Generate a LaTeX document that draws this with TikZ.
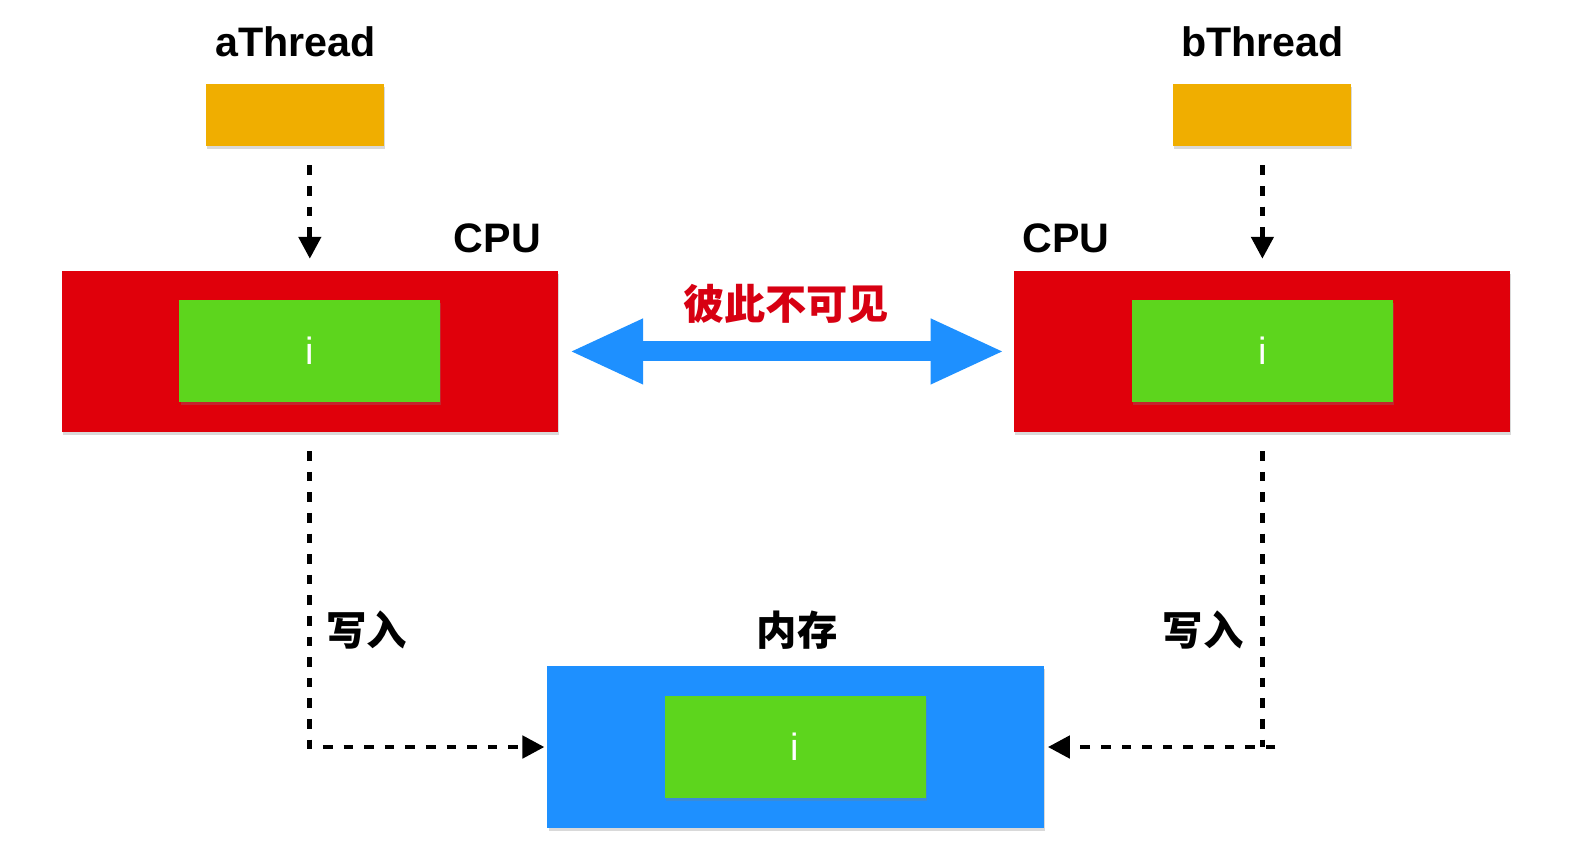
\documentclass[tikz,border=0pt]{standalone}
\usepackage{fontspec}
\setmainfont{Liberation Sans}
\newfontfamily\cjk{Noto Sans CJK SC}
\usetikzlibrary{arrows.meta,shadows}
\definecolor{thorange}{HTML}{F0AE00}
\definecolor{cpured}{HTML}{E0000B}
\definecolor{reggreen}{HTML}{5DD51D}
\definecolor{memblue}{HTML}{1E90FF}
\definecolor{txtred}{HTML}{D70012}
\begin{document}
\begin{tikzpicture}[x=0.50135pt,y=-0.50135pt,
  boxbase/.style={draw=none,inner sep=0pt,outer sep=0pt,
    drop shadow={opacity=0.3,shadow xshift=0.6pt,shadow yshift=-1.4pt}},
  threadbox/.style={boxbase,fill=thorange,minimum width=89.2pt,minimum height=31.1pt},
  cpubox/.style={boxbase,fill=cpured,minimum width=248.2pt,minimum height=80.7pt},
  membox/.style={boxbase,fill=memblue,minimum width=248.2pt,minimum height=81.2pt},
  regbox/.style={boxbase,fill=reggreen,minimum width=130.4pt,minimum height=51.1pt,
    text=white,font=\fontsize{19pt}{19pt}\selectfont},
  lbl/.style={inner sep=0pt,font=\fontsize{20.6pt}{20.6pt}\selectfont\bfseries},
  cjklbl/.style={inner sep=0pt,font=\fontsize{20.2pt}{20.2pt}\selectfont\cjk\bfseries},
  dashline/.style={line width=2.4pt,dash pattern=on 4.8pt off 5.5pt},
  dasharrow/.style={dashline,-{Triangle[length=11pt 0,width=11pt 0]}},
  bluearrow/.style={line width=10pt,draw=memblue,
    {Triangle[length=37pt 0,width=30pt 0]}-{Triangle[length=37pt 0,width=30pt 0]}}
]
\useasboundingbox (0pt,0pt) rectangle (786pt,-432pt);

% threads
\node[lbl] (tal) at (295,42) {aThread};
\node[threadbox] (ta) at (294,115) {};
\node[lbl] (tbl) at (1259,42) {bThread};
\node[threadbox] (tb) at (1258.5,115) {};

% CPUs
\node[cpubox] (lcpu) at (309,350.5) {};
\node[regbox] (lg) at (309,350) {i};
\node[lbl] (lcpul) at (496,238) {CPU};
\node[cpubox] (rcpu) at (1258.5,350.5) {};
\node[regbox] (rg) at (1259,350) {i};
\node[lbl] (rcpul) at (1063,238) {CPU};

% memory
\node[cjklbl] (meml) at (795,628) {内存};
\node[membox] (mem) at (793.5,745) {};
\node[regbox] (mg) at (793,745) {i};

% labels
\node[cjklbl,text=txtred,font=\fontsize{20.6pt}{20.6pt}\selectfont\cjk\bfseries] (vis) at (784,303) {彼此不可见};
\node[cjklbl] (wl) at (366,628) {写入};
\node[cjklbl] (wr) at (1200,628) {写入};

% connectors
\draw[dasharrow,shorten <=9.5pt,shorten >=6pt] (ta.south -| lg) -- (lcpu.north -| lg);
\draw[dasharrow,shorten <=9.5pt,shorten >=6pt] (tb.south -| rg) -- (rcpu.north -| rg);
\draw[bluearrow] ([xshift=5.5pt]lcpu.east) -- ([xshift=-4.5pt]rcpu.west);
\draw[dasharrow,shorten <=9.5pt,shorten >=1.5pt] (lcpu.south -| lg) |- (mem.west);
\draw[dashline,shorten <=9.5pt] (rcpu.south -| rg) -- (mem.west -| rg);
\coordinate (stub) at (1272,745);
\draw[dasharrow,shorten >=2pt] (stub) -- (mem.east);
\end{tikzpicture}
\end{document}
